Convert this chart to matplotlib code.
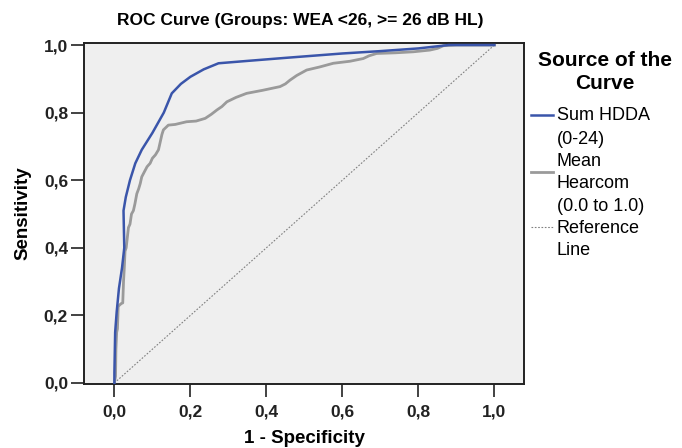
import matplotlib
matplotlib.use("Agg")
import matplotlib.pyplot as plt
from matplotlib.lines import Line2D

plt.rcParams['font.family'] = ['Liberation Sans', 'DejaVu Sans']

title = "ROC Curve (Groups: WEA <26, >= 26 dB HL)"
xlabel = "1 - Specificity"
ylabel = "Sensitivity"
ticks = [0.0, 0.2, 0.4, 0.6, 0.8, 1.0]
tick_labels = ["0,0", "0,2", "0,4", "0,6", "0,8", "1,0"]
legend_title = ["Source of the", "Curve"]

hdda_label = ["Sum HDDA", "(0-24)"]
hdda_fpr = [0.0, 0.0, 0.002, 0.006, 0.012, 0.02, 0.026, 0.024, 0.03, 0.041, 0.055, 0.072,
            0.1, 0.13, 0.151, 0.175, 0.2, 0.235, 0.274, 0.35, 0.45, 0.6, 0.7, 0.8, 0.88, 1.0]
hdda_tpr = [0.0, 0.03, 0.15, 0.21, 0.28, 0.34, 0.40, 0.51, 0.55, 0.60, 0.65, 0.69,
            0.74, 0.80, 0.857, 0.885, 0.906, 0.928, 0.946, 0.953, 0.962, 0.975, 0.982, 0.99, 1.0, 1.0]

hear_label = ["Mean", "Hearcom", "(0.0 to 1.0)"]
hear_fpr = [0.0, 0.003, 0.004, 0.006, 0.008, 0.010, 0.013, 0.018, 0.022, 0.024, 0.026, 0.028,
            0.031, 0.034, 0.037, 0.041, 0.045, 0.05, 0.054, 0.059, 0.064, 0.068, 0.072,
            0.079, 0.086, 0.094, 0.1, 0.108, 0.116, 0.12, 0.125, 0.129, 0.142,
            0.16, 0.19, 0.215, 0.239, 0.255, 0.27, 0.283, 0.296, 0.32, 0.348, 0.39, 0.436,
            0.45, 0.462, 0.48, 0.506, 0.54, 0.576, 0.62, 0.655, 0.67, 0.69, 0.74, 0.787,
            0.83, 0.85, 0.866, 0.9, 1.0]
hear_tpr = [0.0, 0.02, 0.10, 0.15, 0.16, 0.226, 0.23, 0.235, 0.237, 0.30, 0.34, 0.39,
            0.40, 0.43, 0.46, 0.47, 0.50, 0.51, 0.53, 0.56, 0.575, 0.59, 0.61,
            0.625, 0.64, 0.65, 0.665, 0.675, 0.69, 0.71, 0.735, 0.749, 0.763,
            0.765, 0.773, 0.775, 0.783, 0.795, 0.808, 0.818, 0.832, 0.845, 0.857, 0.866, 0.877,
            0.885, 0.896, 0.91, 0.926, 0.935, 0.946, 0.952, 0.96, 0.968, 0.975, 0.977, 0.98,
            0.985, 0.99, 0.998, 1.0, 1.0]

ref_label = ["Reference", "Line"]
ref_x = [0.0, 1.0]
ref_y = [0.0, 1.0]

W, H = 682, 448
fig = plt.figure(figsize=(W / 100, H / 100), dpi=100)
ax = fig.add_axes([84 / W, 1 - 384 / H, (524 - 84) / W, (384 - 43) / H])
ax.set_facecolor('#efefef')

blue, gray, dgray = '#3a55aa', '#9a9a9a', '#808080'
ref_ls = (0, (1.5, 1.5))
ax.plot(hdda_fpr, hdda_tpr, color=blue, lw=1.8, zorder=3)
ax.plot(hear_fpr, hear_tpr, color=gray, lw=2.0, zorder=2)
ax.plot(ref_x, ref_y, color=dgray, lw=0.8, ls=ref_ls, zorder=1)

ax.set_xlim(-0.08, 1.078)
ax.set_ylim(-0.003, 1.006)
ax.set_xticks(ticks)
ax.set_xticklabels(tick_labels)
ax.set_yticks(ticks)
ax.set_yticklabels(tick_labels)
ax.tick_params(direction='out', length=9.5, width=1.2, labelsize=12.5, colors='#222222')
ax.tick_params(axis='x', pad=5)
ax.tick_params(axis='y', pad=2)
for lab in ax.get_xticklabels() + ax.get_yticklabels():
    lab.set_fontweight('bold')
for s in ax.spines.values():
    s.set_linewidth(1.4)
    s.set_color('#222222')

fig.text(300 / W, 1 - 20 / H, title, ha='center', va='center', fontsize=12.5, fontweight='bold')
ax.set_xlabel(xlabel, fontsize=13.5, fontweight='bold', labelpad=8)
ax.set_ylabel(ylabel, fontsize=13.5, fontweight='bold', labelpad=9)

# legend (manual layout)
def fx(p):
    return p / W

def fy(p):
    return 1 - p / H

for txt, yp in zip(legend_title, [61, 83]):
    fig.text(fx(605), fy(yp), txt, ha='center', va='center', fontsize=15, fontweight='bold')

entries = [(hdda_label, [116, 139], 115, dict(color=blue, lw=1.8)),
           (hear_label, [162, 184, 206], 172, dict(color=gray, lw=2.0)),
           (ref_label, [228, 250], 227, dict(color=dgray, lw=0.8, ls=ref_ls))]
for lines, ys, hy, style in entries:
    fig.add_artist(Line2D([fx(531), fx(553)], [fy(hy), fy(hy)], transform=fig.transFigure, **style))
    for txt, yp in zip(lines, ys):
        fig.text(fx(557), fy(yp), txt, ha='left', va='center', fontsize=13)

fig.savefig('out.png', dpi=100)
